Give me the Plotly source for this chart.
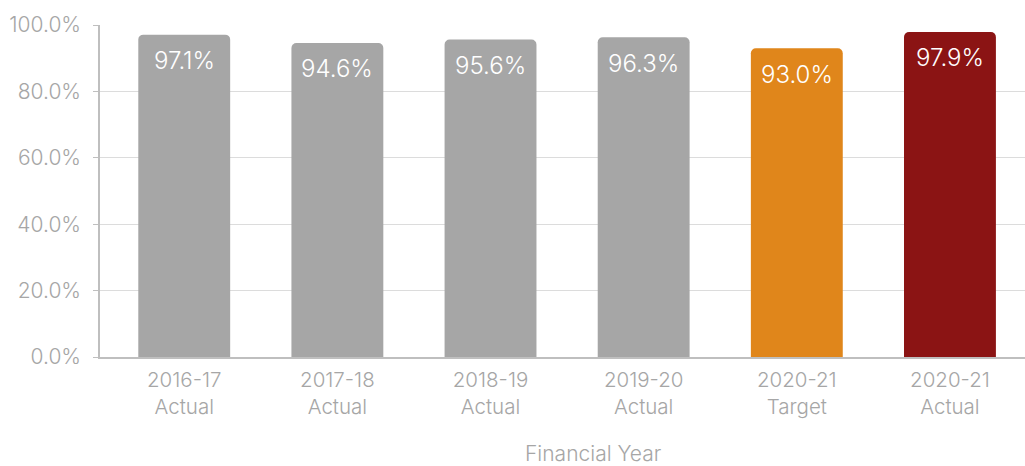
import plotly.graph_objects as go

categories = ["2016-17<br>Actual", "2017-18<br>Actual", "2018-19<br>Actual",
              "2019-20<br>Actual", "2020-21<br>Target", "2020-21<br>Actual"]
values = [97.1, 94.6, 95.6, 96.3, 93.0, 97.9]
labels = ["97.1%", "94.6%", "95.6%", "96.3%", "93.0%", "97.9%"]
colors = ["#a6a6a6", "#a6a6a6", "#a6a6a6", "#a6a6a6", "#e0861b", "#8b1414"]
y_ticks = [0, 20, 40, 60, 80, 100]
y_tick_labels = ["0.0%", "20.0%", "40.0%", "60.0%", "80.0%", "100.0%"]

FONT = "Inter"
W = 300

fig = go.Figure()
fig.add_trace(go.Bar(
    x=list(range(len(categories))), y=values,
    marker=dict(color=colors, line=dict(width=0)),
    width=0.6, hoverinfo="skip",
))

for i, (v, t) in enumerate(zip(values, labels)):
    fig.add_annotation(x=i, y=v, text=t, showarrow=False, yanchor="middle",
                       yshift=-26, font=dict(family=FONT, size=24, color="white", weight=W))

fig.add_annotation(x=0.533, y=0, xref="paper", yref="paper", yshift=-96,
                   text="Financial Year", showarrow=False, yanchor="middle",
                   font=dict(family=FONT, size=21, color="#a6a6a6", weight=W))

fig.update_layout(
    width=1025, height=466,
    margin=dict(l=100, r=0, t=25, b=109),
    plot_bgcolor="white", paper_bgcolor="white",
    barcornerradius=5,
    showlegend=False,
    font=dict(family=FONT, size=20, color="#a6a6a6", weight=W),
    xaxis=dict(
        range=[-0.55, 5.49],
        tickmode="array", tickvals=list(range(len(categories))), ticktext=categories,
        showline=True, linecolor="#bfbfbf", linewidth=1.5,
        showgrid=False, ticks="", zeroline=False,
        ticklabelstandoff=4,
        tickfont=dict(family=FONT, size=20.5, color="#a6a6a6", weight=W),
    ),
    yaxis=dict(
        range=[0, 100],
        tickmode="array", tickvals=y_ticks, ticktext=y_tick_labels,
        showline=True, linecolor="#bfbfbf", linewidth=1.5,
        ticks="outside", ticklen=5, tickcolor="#bfbfbf",
        showgrid=True, gridcolor="#dcdcdc", gridwidth=1,
        zeroline=False,
        ticklabelstandoff=8,
        tickfont=dict(family=FONT, size=21, color="#a6a6a6", weight=W),
    ),
)

fig.write_html("out.html")
